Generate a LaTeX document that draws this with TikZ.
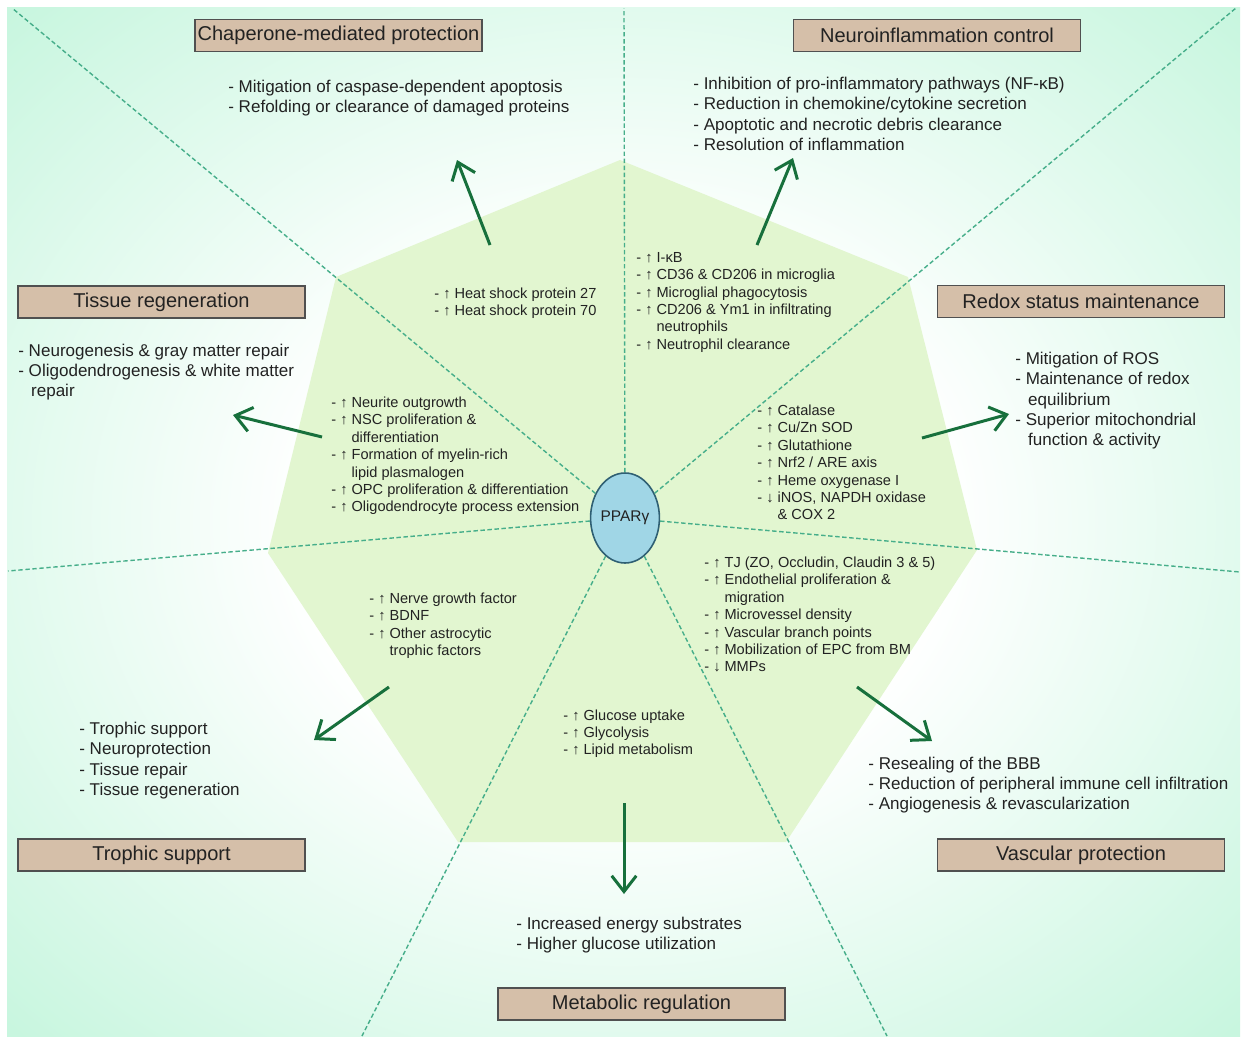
\documentclass[tikz,border=0pt]{standalone}
\usepackage{fontspec}
\setmainfont{Liberation Sans}
\usetikzlibrary{arrows.meta,shapes.geometric}
\definecolor{bgmint}{HTML}{C8F6DF}
\definecolor{hepta}{HTML}{E2F6D0}
\definecolor{raycol}{HTML}{46AE8A}
\definecolor{arrcol}{HTML}{17703C}
\definecolor{boxfill}{HTML}{D5BFA9}
\definecolor{boxline}{HTML}{505050}
\definecolor{txt}{HTML}{222222}
\definecolor{pparfill}{HTML}{A0D6E6}
\definecolor{pparline}{HTML}{2F5F73}
\pgfdeclareradialshading{bgshade}{\pgfpoint{0bp}{0bp}}{color(0bp)=(white); color(13bp)=(white); color(35bp)=(bgmint); color(50bp)=(bgmint)}
\newcommand{\myind}{\hphantom{- ↑ }}
\newcommand{\myindo}{\hspace*{0.75em}}
\begin{document}
\begin{tikzpicture}[x=0.02cm,y=-0.02cm,
  catbox/.style={draw=boxline, line width=0.8pt, fill=boxfill, minimum width=5.74cm, minimum height=0.64cm, inner sep=0pt, font=\fontsize{11.4}{13}\selectfont, text=txt},
  outtext/.style={anchor=base west, align=left, inner sep=0pt, font=\fontsize{9.7}{11.6}\selectfont, text=txt},
  intext/.style={anchor=base west, align=left, inner sep=0pt, font=\fontsize{8.3}{9.9}\selectfont, text=txt},
  effarrow/.style={draw=arrcol, line width=1.7pt, -{Straight Barb[length=9pt,width=14pt]}},
  ray/.style={draw=raycol, line width=0.8pt, dash pattern=on 2.5pt off 1.5pt}]
\useasboundingbox (0,0) rectangle (1244,1038);
\fill[white] (0,0) rectangle (1244,1038);
\shade[shading=bgshade] (7,7) rectangle (1240,1036);
% heptagon
\fill[hepta] (620,160) -- (908,277) -- (977,550) -- (786,842) -- (458,842) -- (268,553) -- (336,277) -- cycle;
% centre
\node[ellipse, draw=pparline, line width=0.9pt, fill=pparfill, minimum width=1.22cm, minimum height=1.8cm, inner sep=0pt, font=\fontsize{8.8}{10}\selectfont, text=txt] (ppar) at (625,518) {PPARγ};
% rays
\coordinate (rTL) at (12,8);
\coordinate (rT) at (624,8);
\coordinate (rTR) at (1236,8);
\coordinate (rR) at (1240,572);
\coordinate (rBR) at (887,1036);
\coordinate (rBL) at (362,1036);
\coordinate (rL) at (8,571);
\foreach \e in {rTL,rT,rTR,rR,rBR,rBL,rL} \draw[ray] (ppar) -- (\e);
% category boxes
\node[catbox] (chap) at (338.5,35.5) {Chaperone-mediated protection};
\node[catbox] (neuro) at (937,35.5) {Neuroinflammation control};
\node[catbox] (tissue) at (161.5,302) {Tissue regeneration};
\node[catbox] (redox) at (1081,301.5) {Redox status maintenance};
\node[catbox] (troph) at (161.5,855) {Trophic support};
\node[catbox] (vasc) at (1081,855) {Vascular protection};
\node[catbox] (metab) at (641.5,1004) {Metabolic regulation};
% outcome texts (anchor = baseline of last line)
\node[outtext] (chapout) at (228,112.5) {- Mitigation of caspase-dependent apoptosis\\- Refolding or clearance of damaged proteins};
\node[outtext] (neuroout) at (693,150.4) {- Inhibition of pro-inflammatory pathways (NF-κB)\\- Reduction in chemokine/cytokine secretion\\- Apoptotic and necrotic debris clearance\\- Resolution of inflammation};
\node[outtext] (tissueout) at (18,396.9) {- Neurogenesis \& gray matter repair\\- Oligodendrogenesis \& white matter\\\myindo repair};
\node[outtext] (redoxout) at (1015,445.8) {- Mitigation of ROS\\- Maintenance of redox\\\myindo equilibrium\\- Superior mitochondrial\\\myindo function \& activity};
\node[outtext] (trophout) at (79,795.4) {- Trophic support\\- Neuroprotection\\- Tissue repair\\- Tissue regeneration};
\node[outtext] (vascout) at (868,809.9) {- Resealing of the BBB\\- Reduction of peripheral immune cell infiltration\\- Angiogenesis \& revascularization};
\node[outtext] (metabout) at (516,949.5) {- Increased energy substrates\\- Higher glucose utilization};
% inner texts
\node[intext] (chapin) at (434,315.5) {- ↑ Heat shock protein 27\\- ↑ Heat shock protein 70};
\node[intext] (neuroin) at (636,349.3) {- ↑ I-κB\\- ↑ CD36 \& CD206 in microglia\\- ↑ Microglial phagocytosis\\- ↑ CD206 \& Ym1 in infiltrating\\\myind neutrophils\\- ↑ Neutrophil clearance};
\node[intext] (tissuein) at (331,511.8) {- ↑ Neurite outgrowth\\- ↑ NSC proliferation \&\\\myind differentiation\\- ↑ Formation of myelin-rich\\\myind lipid plasmalogen\\- ↑ OPC proliferation \& differentiation\\- ↑ Oligodendrocyte process extension};
\node[intext] (redoxin) at (757,519.8) {- ↑ Catalase\\- ↑ Cu/Zn SOD\\- ↑ Glutathione\\- ↑ Nrf2 / ARE axis\\- ↑ Heme oxygenase I\\- ↓ iNOS, NAPDH oxidase\\\myind \& COX 2};
\node[intext] (vascin) at (704,671.8) {- ↑ TJ (ZO, Occludin, Claudin 3 \& 5)\\- ↑ Endothelial proliferation \&\\\myind migration\\- ↑ Microvessel density\\- ↑ Vascular branch points\\- ↑ Mobilization of EPC from BM\\- ↓ MMPs};
\node[intext] (trophin) at (369,655.4) {- ↑ Nerve growth factor\\- ↑ BDNF\\- ↑ Other astrocytic\\\myind trophic factors};
\node[intext] (metabin) at (563,754.9) {- ↑ Glucose uptake\\- ↑ Glycolysis\\- ↑ Lipid metabolism};
% arrows
\coordinate (a1s) at (490,245); \coordinate (a1e) at (457,160);
\coordinate (a2s) at (757,245); \coordinate (a2e) at (793,158);
\coordinate (a3s) at (922,438); \coordinate (a3e) at (1009,414);
\coordinate (a4s) at (857,687); \coordinate (a4e) at (932,741);
\coordinate (a5s) at (624,803); \coordinate (a5e) at (624,894);
\coordinate (a6s) at (389,687); \coordinate (a6e) at (314,740);
\coordinate (a7s) at (322,437); \coordinate (a7e) at (233,415);
\foreach \i in {1,...,7} \draw[effarrow] (a\i s) -- (a\i e);
\end{tikzpicture}
\end{document}
